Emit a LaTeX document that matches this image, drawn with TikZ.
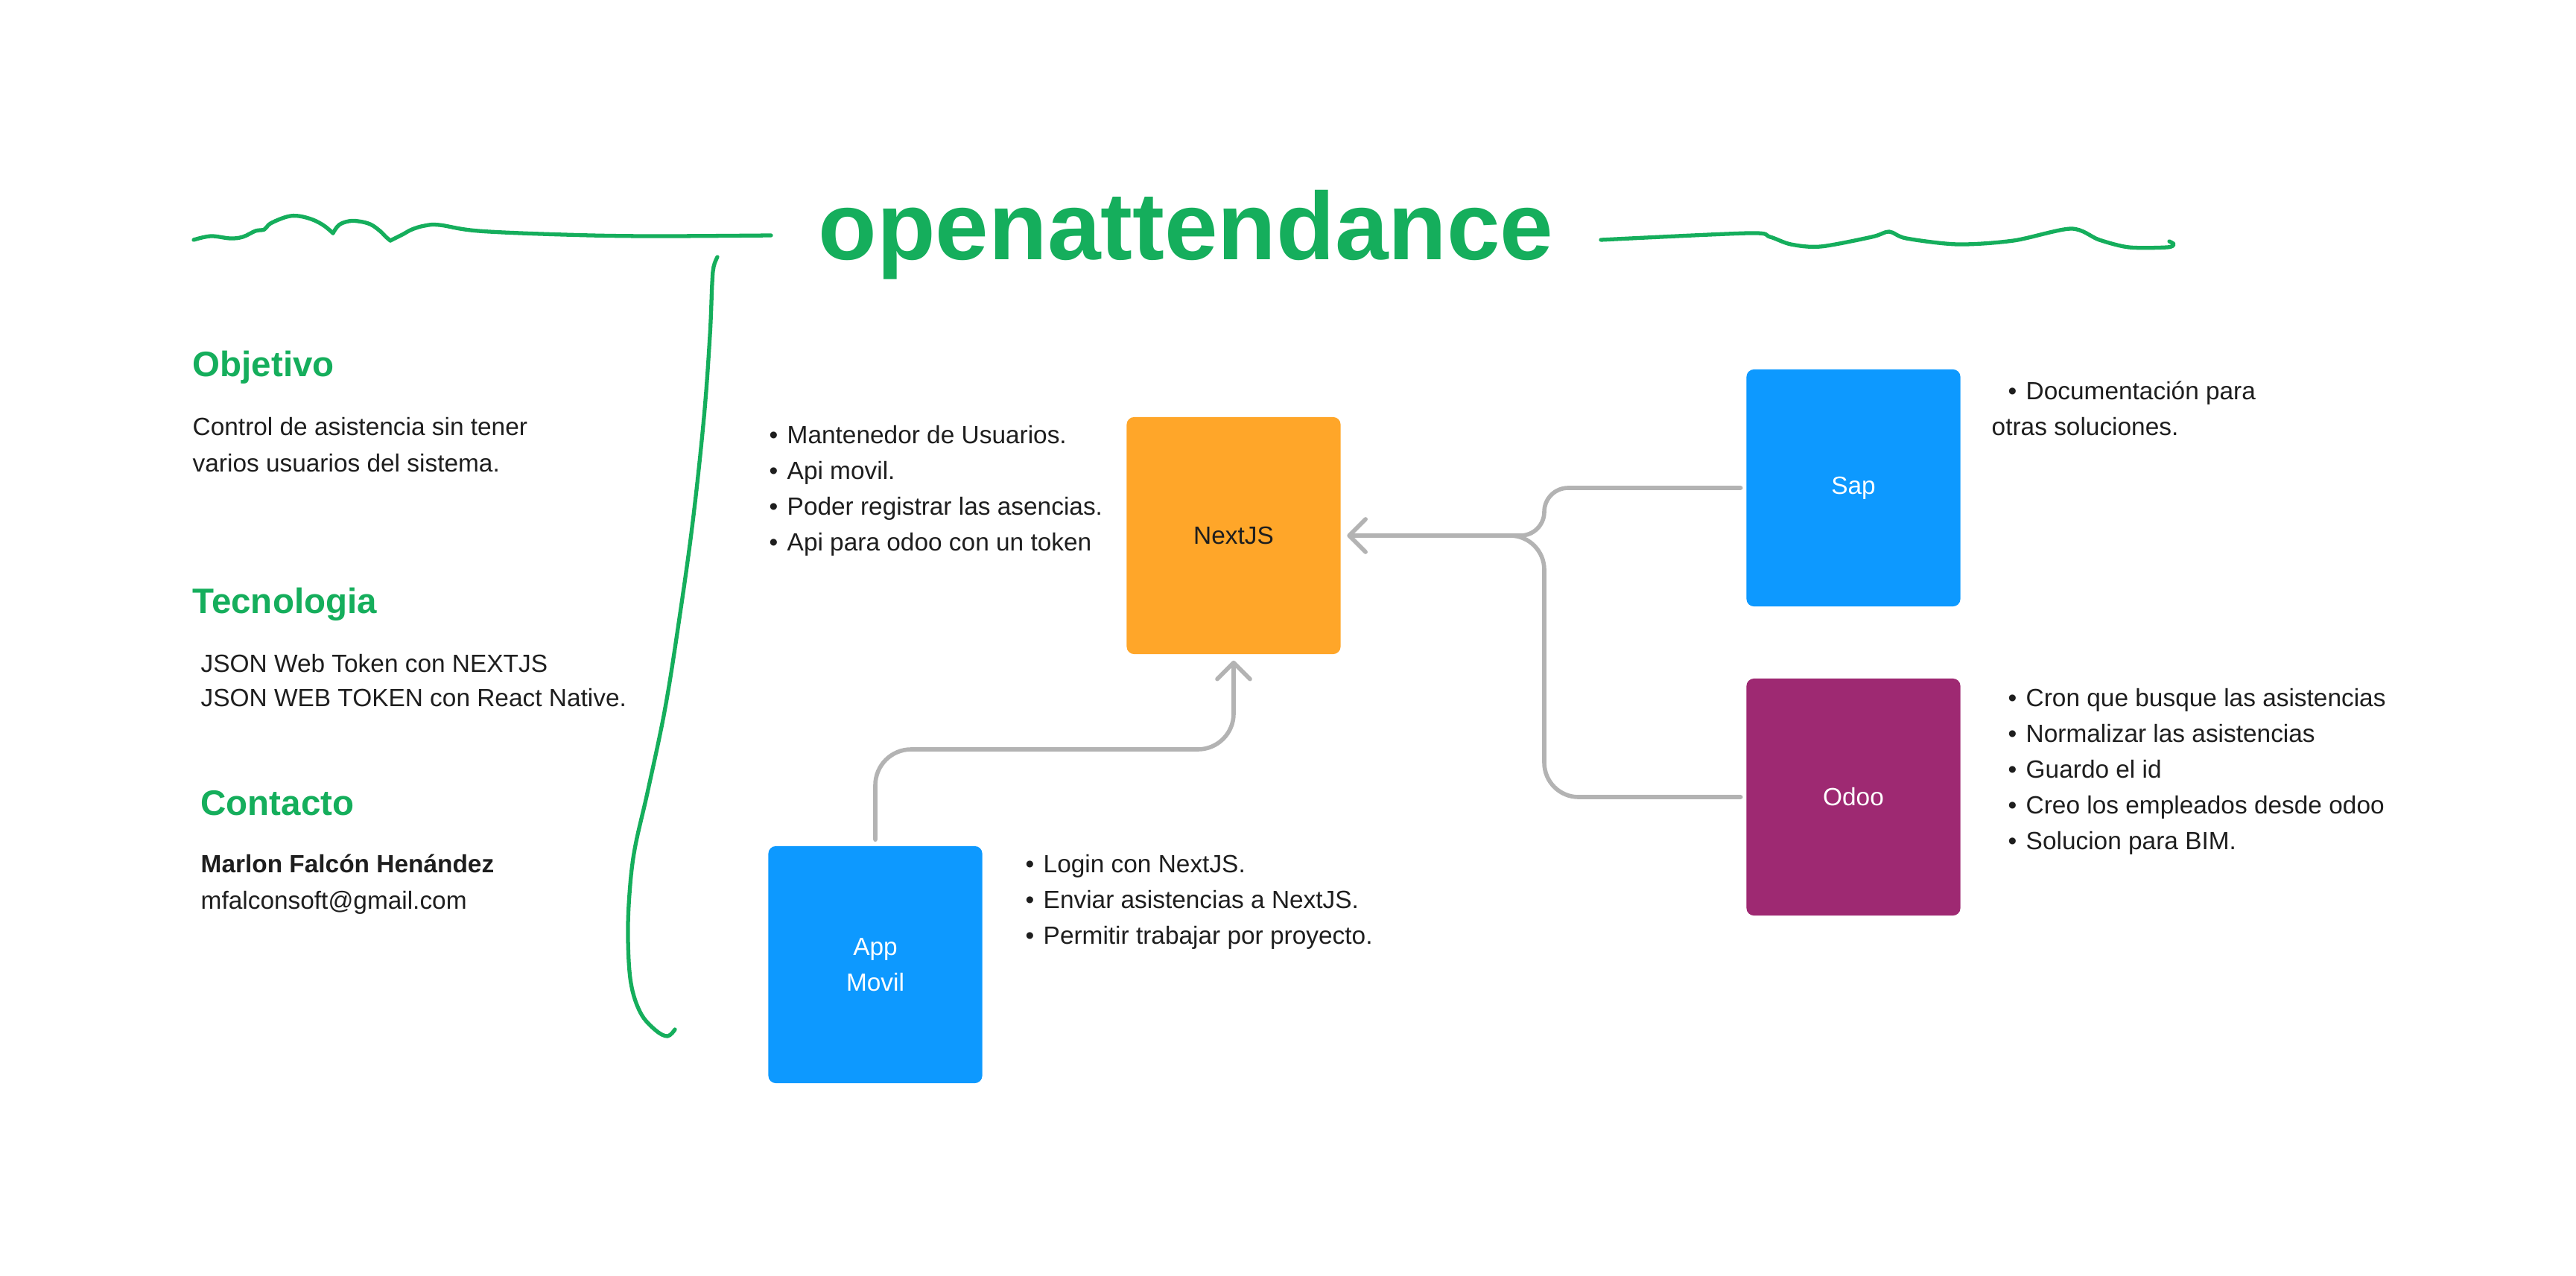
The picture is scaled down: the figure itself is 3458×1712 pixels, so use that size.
\documentclass[tikz,border=0pt]{standalone}
\usepackage{fontspec}
\setmainfont{Liberation Sans}
\usetikzlibrary{arrows.meta,positioning}
\definecolor{brandgreen}{RGB}{21,174,92}
\definecolor{nextorange}{RGB}{255,166,41}
\definecolor{figblue}{RGB}{13,153,255}
\definecolor{odoopurple}{RGB}{158,41,114}
\definecolor{linkgray}{RGB}{179,179,179}
\definecolor{ink}{RGB}{30,30,30}
\newcommand{\bodyfont}{\fontsize{9.5}{13.7}\selectfont}
\newcommand{\headfont}{\fontsize{13.5}{16}\selectfont\bfseries}

\begin{document}
\begin{tikzpicture}[x=0.01cm, y=-0.01cm,
  box/.style={rectangle, rounded corners=0.1cm, minimum width=2.87cm, minimum height=3.18cm,
    inner sep=0, text=white, font=\bodyfont, align=center},
  txt/.style={anchor=base west, inner sep=0, font=\bodyfont, text=ink},
  head/.style={anchor=base west, inner sep=0, font=\headfont, text=brandgreen},
  link/.style={draw=linkgray, line width=1.6pt, line cap=round, line join=round},
  arrowlink/.style={-{Straight Barb[length=0.22cm, width=0.44cm, round]}},
  squiggle/.style={draw=brandgreen, line width=1.5pt, line cap=round, line join=round}]
  \fill[white] (0,0) rectangle (3458,1712);
  \useasboundingbox (0,0) rectangle (3458,1712);

  % title and hand drawn strokes
  \node[anchor=base, inner sep=0, text=brandgreen, font=\fontsize{36.6}{40}\selectfont\bfseries]
    (title) at (1592,348) {openattendance};
  \draw[squiggle] plot[smooth, tension=0.6] coordinates {(260,322) (283,317) (309,320) (326,318)
    (343,310) (355,308) (363,300) (385,291) (401,290) (420,295) (435,303) (447,313)};
  \draw[squiggle] plot[smooth, tension=0.6] coordinates {(447,313) (455,302) (468,297) (481,297)
    (497,301) (510,310) (518,318) (524,323)};
  \draw[squiggle] plot[smooth, tension=0.6] coordinates {(524,323) (540,315) (553,308) (570,303)
    (590,302) (642,310) (757,315) (871,317) (1035,316)};
  \draw[squiggle] plot[smooth, tension=0.5] coordinates {(2149,322) (2347,313) (2376,318) (2404,328)
    (2444,331) (2513,318) (2536,311) (2559,320) (2628,328) (2703,323) (2780,307) (2818,322)
    (2858,332) (2909,332) (2918,328) (2912,324)};
  \draw[squiggle] plot[smooth, tension=0.6] coordinates {(963,345) (958,358) (956,380) (953,450)
    (945,560) (930,700) (912,830) (893,950) (870,1060) (852,1140) (845,1200) (843,1260)
    (847,1320) (860,1360) (880,1383) (896,1391) (906,1382)};

  % left column
  \node[head] (objetivo) at (258,505) {Objetivo};
  \node[txt] (obj1) at (258,584) {Control de asistencia sin tener};
  \node[txt] (obj2) at (258,633) {varios usuarios del sistema.};
  \node[head] (tecno) at (258,823) {Tecnologia};
  \node[txt] (tec1) at (269,902) {JSON Web Token con NEXTJS};
  \node[txt] (tec2) at (269,948) {JSON WEB TOKEN con React Native.};
  \node[head] (contacto) at (269,1094) {Contacto};
  \node[txt, font=\bodyfont\bfseries] (nombre) at (269,1171) {Marlon Falcón Henández};
  \node[txt] (correo) at (269,1220) {mfalconsoft@gmail.com};

  % boxes
  \node[box, fill=nextorange, text=ink] (nextjs) at (1656,719) {NextJS};
  \node[box, fill=figblue] (sap) at (2488,655) {Sap};
  \node[box, fill=odoopurple] (odoo) at (2488,1070) {Odoo};
  \node[box, fill=figblue] (app) at (1175,1295) {App\\Movil};

  % notes
  \foreach \t [count=\i] in {Mantenedor de Usuarios., Api movil., Poder registrar las asencias.,
    Api para odoo con un token} {
    \node[txt] (nxb\i) at (1032,547+48*\i) {\textbullet};
    \node[txt] (nx\i) at (1056,547+48*\i) {\t};
  }
  \foreach \t [count=\i] in {Login con NextJS., Enviar asistencias a NextJS.,
    Permitir trabajar por proyecto.} {
    \node[txt] (apb\i) at (1376,1123+48*\i) {\textbullet};
    \node[txt] (ap\i) at (1400,1123+48*\i) {\t};
  }
  \node[txt] (sapb1) at (2695,536) {\textbullet};
  \node[txt] (sap1) at (2719,536) {Documentación para};
  \node[txt] (sap2) at (2673,584) {otras soluciones.};
  \foreach \t [count=\i] in {Cron que busque las asistencias, Normalizar las asistencias,
    Guardo el id, Creo los empleados desde odoo, Solucion para BIM.} {
    \node[txt] (odb\i) at (2695,900+48*\i) {\textbullet};
    \node[txt] (od\i) at (2719,900+48*\i) {\t};
  }

  % connectors
  \coordinate (bend) at (0,1006);
  \coordinate (fork) at (2073,719);
  \coordinate (merge) at (1990,719);
  \draw[link, arrowlink, rounded corners=0.48cm, shorten <=0.08cm, shorten >=0.08cm]
    (app.north) -- (app.north |- bend) -- (nextjs.south |- bend) -- (nextjs.south);
  \draw[link, arrowlink, rounded corners=0.32cm, shorten <=0.07cm, shorten >=0.08cm]
    (sap.west) -- (sap.west -| fork) -- (fork) -- (nextjs.east);
  \draw[link, rounded corners=0.46cm, shorten <=0.07cm]
    (odoo.west) -- (odoo.west -| fork) -- (fork) -- (merge);
\end{tikzpicture}
\end{document}
